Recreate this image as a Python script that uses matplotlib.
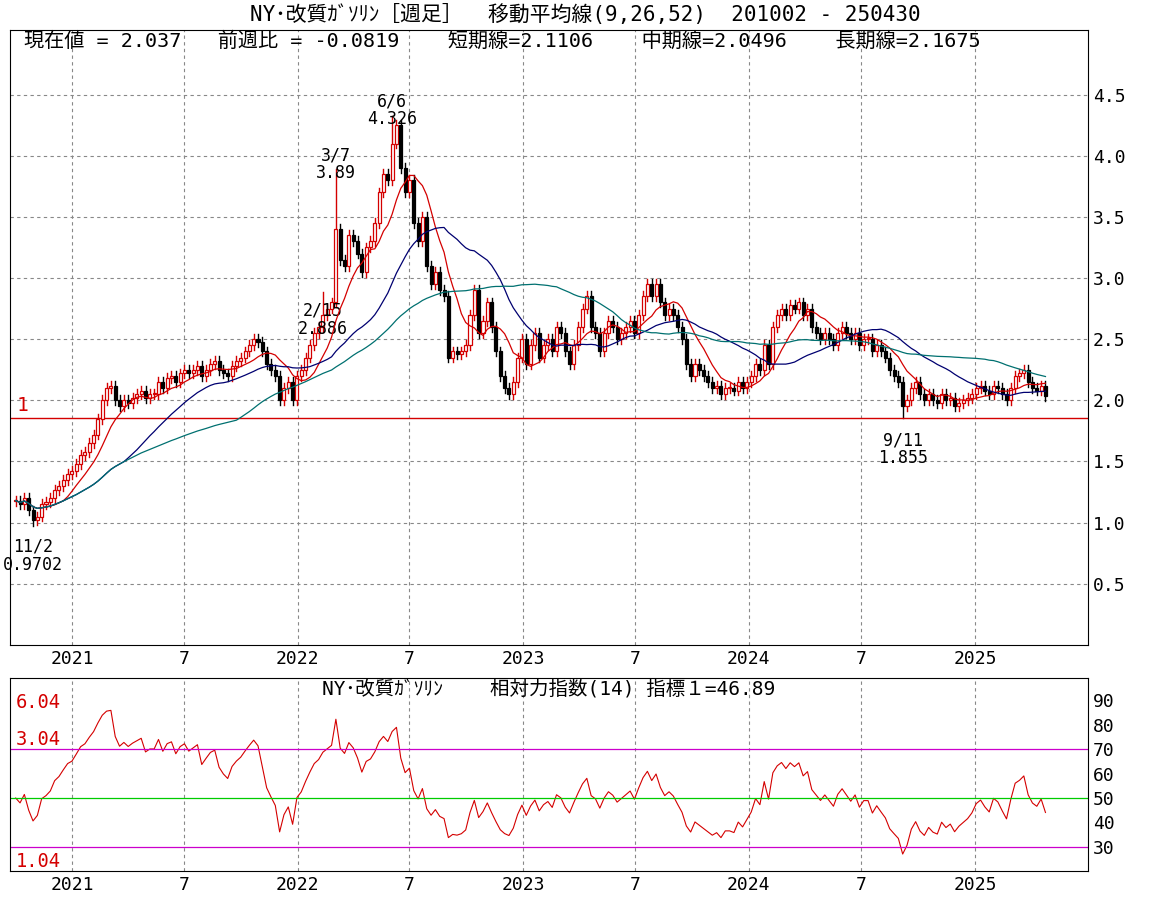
import matplotlib
matplotlib.use("Agg")
import matplotlib.pyplot as plt
import numpy as np
import pandas as pd

plt.rcParams["font.family"] = ["Noto Sans CJK JP", "DejaVu Sans"]
MONO = ["DejaVu Sans Mono", "Noto Sans CJK JP"]

START = pd.Timestamp("2020-10-02")

# weekly closes, grouped by year
closes_2020 = [1.18, 1.15, 1.20, 1.10, 1.02, 1.05, 1.15, 1.17, 1.20, 1.27, 1.30, 1.35, 1.40]
closes_2021 = [1.42, 1.48, 1.55, 1.58, 1.65, 1.72, 1.85, 2.00, 2.10, 2.12, 2.00, 1.95,
               2.00, 1.98, 2.02, 2.05, 2.08, 2.02, 2.05, 2.05, 2.15, 2.10, 2.18, 2.20,
               2.15, 2.22, 2.25, 2.22, 2.25, 2.28, 2.20, 2.25, 2.30, 2.32, 2.25, 2.22,
               2.20, 2.28, 2.32, 2.35, 2.40, 2.45, 2.50, 2.48, 2.40, 2.30, 2.25, 2.20,
               2.00, 2.10, 2.15, 2.00, 2.20]
closes_2022 = [2.25, 2.35, 2.45, 2.55, 2.60, 2.70, 2.75, 2.80, 3.40, 3.15, 3.10, 3.35, 3.30,
               3.20, 3.05, 3.25, 3.30, 3.45, 3.70, 3.85, 3.80, 4.10, 4.25, 3.90, 3.70,
               3.80, 3.45, 3.30, 3.50, 3.10, 2.95, 3.05, 2.90, 2.85, 2.35, 2.40, 2.38, 2.40,
               2.45, 2.70, 2.90, 2.55, 2.65, 2.80, 2.60, 2.40, 2.20, 2.10, 2.05, 2.15, 2.35,
               2.50]
closes_2023 = [2.30, 2.45, 2.55, 2.35, 2.45, 2.50, 2.40, 2.60, 2.55, 2.40, 2.30, 2.45, 2.60,
               2.75, 2.85, 2.60, 2.55, 2.40, 2.55, 2.65, 2.60, 2.50, 2.55, 2.60, 2.65,
               2.55, 2.70, 2.85, 2.95, 2.85, 2.95, 2.80, 2.70, 2.75, 2.70, 2.60, 2.50, 2.30,
               2.20, 2.30, 2.25, 2.20, 2.15, 2.10, 2.12, 2.05, 2.10, 2.10, 2.08, 2.15, 2.10]
closes_2024 = [2.15, 2.20, 2.30, 2.25, 2.45, 2.30, 2.60, 2.70, 2.75, 2.70, 2.78, 2.75, 2.80,
               2.70, 2.75, 2.60, 2.55, 2.50, 2.55, 2.50, 2.45, 2.55, 2.60, 2.55, 2.50,
               2.55, 2.45, 2.50, 2.50, 2.40, 2.45, 2.40, 2.35, 2.25, 2.20, 2.15, 1.95, 2.00,
               2.10, 2.15, 2.05, 2.00, 2.05, 2.00, 1.98, 2.05, 2.00, 2.02, 1.95, 1.98, 2.00,
               2.02, 2.05]
closes_2025 = [2.10, 2.12, 2.08, 2.05, 2.12, 2.10, 2.05, 2.00, 2.10, 2.20, 2.22, 2.25,
               2.15, 2.10, 2.08, 2.12, 2.037]

# labelled extremes: week index -> (value, label text, label y)
extreme_highs = {74: (3.89, "3/7\n3.89", 3.93), 87: (4.326, "6/6\n4.326", 4.37),
                 71: (2.886, "2/15\n2.886", 2.66)}
extreme_lows = {4: (0.9702, "11/2\n0.9702", 0.73), 205: (1.855, "9/11\n1.855", 1.6)}

closes = np.array(closes_2020 + closes_2021 + closes_2022 + closes_2023 + closes_2024 + closes_2025)
opens = np.r_[closes[0], closes[:-1]]
highs = np.maximum(opens, closes) + 0.04
lows = np.minimum(opens, closes) - 0.04
for k, (v, _, _) in extreme_highs.items():
    highs[k] = v
for k, (v, _, _) in extreme_lows.items():
    lows[k] = v

s = pd.Series(closes)
ma9 = s.rolling(9, min_periods=1).mean()
ma26 = s.rolling(26, min_periods=1).mean()
ma52 = s.rolling(52, min_periods=1).mean()

# Wilder RSI(14), seeded with a neutral average move
d = np.diff(closes, prepend=closes[0])
up_avg, dn_avg = 0.03, 0.03
rsi = []
for v in d:
    up_avg = (up_avg * 13 + max(v, 0)) / 14
    dn_avg = (dn_avg * 13 + max(-v, 0)) / 14
    rsi.append(100 * up_avg / (up_avg + dn_avg))

x = np.arange(len(closes))


def week(date):
    return (pd.Timestamp(date) - START).days / 7


tick_dates = ["2021-01-01", "2021-07-01", "2022-01-01", "2022-07-01", "2023-01-01",
              "2023-07-01", "2024-01-01", "2024-07-01", "2025-01-01"]
tick_labels = ["2021", "7", "2022", "7", "2023", "7", "2024", "7", "2025"]
ticks = [week(t) for t in tick_dates]
xlim = (-1.33, 247.8)

fig = plt.figure(figsize=(11.71, 9.02), dpi=100)
ax = fig.add_axes([0.0085, 0.285, 0.9205, 0.682])
ax2 = fig.add_axes([0.0085, 0.034, 0.9205, 0.214])

RED = "#d40000"
for i in x:
    o, c, h, l = opens[i], closes[i], highs[i], lows[i]
    col = RED if c >= o else "black"
    ax.plot([i, i], [l, h], color=col, lw=1.0, zorder=2)
    ax.bar(i, max(abs(c - o), 0.008), bottom=min(o, c), width=0.7,
           facecolor="white" if c >= o else "black", edgecolor=col, lw=0.9, zorder=3)
ax.plot(x, ma9, color=RED, lw=0.9, zorder=4)
ax.plot(x, ma26, color="#000070", lw=0.9, zorder=4)
ax.plot(x, ma52, color="#007070", lw=0.9, zorder=4)
ax.axhline(1.855, color=RED, lw=1.0)
ax.text(0.3, 1.88, "1", color=RED, fontsize=14, ha="left", va="bottom", family=MONO)

for k, (v, lab, ly) in list(extreme_highs.items()) + list(extreme_lows.items()):
    ax.text(k, ly, lab, ha="center", va="center", fontsize=12, linespacing=1.0, family=MONO)

ax.set_xlim(*xlim)
ax.set_ylim(0, 5.03)
ax.set_yticks([0.5, 1.0, 1.5, 2.0, 2.5, 3.0, 3.5, 4.0, 4.5])
ax.yaxis.tick_right()
ax.set_xticks(ticks)
ax.set_xticklabels(tick_labels, family=MONO)
for t in ax.get_yticklabels():
    t.set_family(MONO)
ax.tick_params(length=0, labelsize=13)
ax.grid(True, color="#888888", ls=(0, (3, 3)), lw=0.8)
ax.text(0.013, 0.997,
        "現在値 = 2.037   前週比 = -0.0819    短期線=2.1106    中期線=2.0496    長期線=2.1675",
        transform=ax.transAxes, ha="left", va="top", fontsize=14.5, family=MONO)
fig.text(0.5, 0.984, "NY･改質ｶﾞｿﾘﾝ［週足］  移動平均線(9,26,52)  201002 - 250430",
         ha="center", va="center", fontsize=15, family=MONO)

ax2.plot(x, rsi, color=RED, lw=0.8)
ax2.axhline(70, color="#cc00cc", lw=0.9)
ax2.axhline(30, color="#cc00cc", lw=0.9)
ax2.axhline(50, color="#00cc00", lw=0.9)
ax2.set_xlim(*xlim)
ax2.set_ylim(20, 99)
ax2.set_yticks([30, 40, 50, 60, 70, 80, 90])
ax2.yaxis.tick_right()
ax2.set_xticks(ticks)
ax2.set_xticklabels(tick_labels, family=MONO)
for t in ax2.get_yticklabels():
    t.set_family(MONO)
ax2.tick_params(length=0, labelsize=13)
ax2.grid(True, axis="x", color="#888888", ls=(0, (3, 3)), lw=0.8)
ax2.text(0.5, 0.99, "NY･改質ｶﾞｿﾘﾝ    相対力指数(14) 指標１=46.89", transform=ax2.transAxes,
         ha="center", va="top", fontsize=14, family=MONO)
for val, lab in [(89, "6.04"), (74, "3.04"), (24, "1.04")]:
    ax2.text(0.005, val, lab, transform=ax2.get_yaxis_transform(), color=RED,
             fontsize=13.5, va="center", family=MONO)

fig.savefig("out.png", dpi=100)
